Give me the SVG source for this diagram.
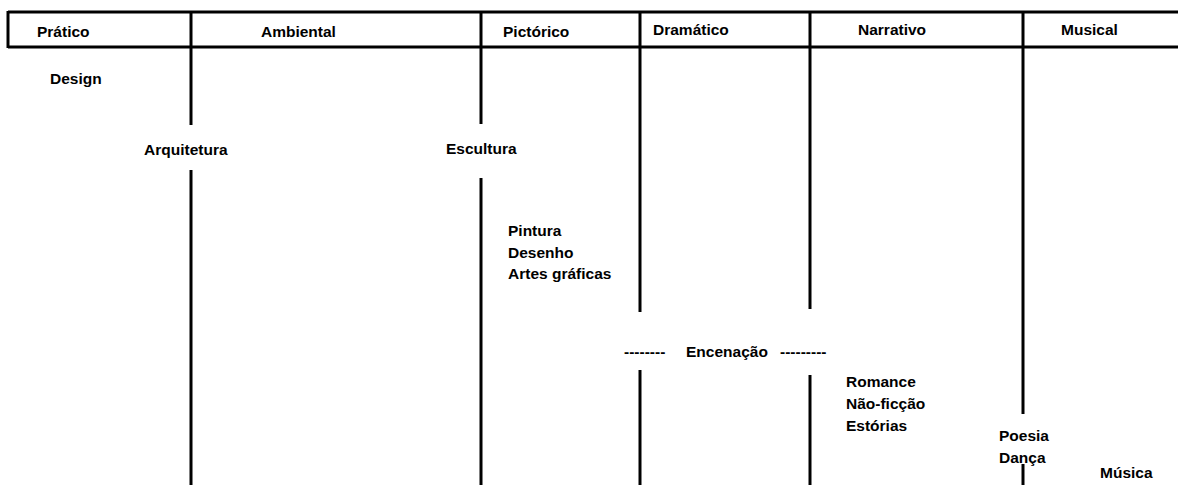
<svg xmlns="http://www.w3.org/2000/svg" width="1178" height="485" viewBox="0 0 1178 485">
<style>
text{font-family:"Liberation Sans",Arial,sans-serif;font-weight:bold;font-size:15.5px;fill:#000}
.ln{stroke:#000;stroke-width:3;fill:none}
</style>
<rect width="1178" height="485" fill="#fff"/>
<g id="connectors">
<line class="ln" x1="8" y1="12" x2="1178" y2="12"/>
<line class="ln" x1="8" y1="47" x2="1178" y2="47"/>
<line class="ln" x1="8" y1="11" x2="8" y2="48"/>
<line class="ln" x1="191" y1="11" x2="191" y2="125"/>
<line class="ln" x1="191" y1="170" x2="191" y2="485"/>
<line class="ln" x1="481" y1="11" x2="481" y2="124"/>
<line class="ln" x1="481" y1="178" x2="481" y2="485"/>
<line class="ln" x1="640" y1="11" x2="640" y2="312"/>
<line class="ln" x1="640" y1="370" x2="640" y2="485"/>
<line class="ln" x1="810" y1="11" x2="810" y2="309"/>
<line class="ln" x1="810" y1="375" x2="810" y2="485"/>
<line class="ln" x1="1023" y1="11" x2="1023" y2="414"/>
<line class="ln" x1="1023" y1="464" x2="1023" y2="485"/>
</g>
<g id="headers">
<text x="37" y="37">Prático</text>
<text x="261" y="37">Ambiental</text>
<text x="503" y="37">Pictórico</text>
<text x="653" y="35">Dramático</text>
<text x="858" y="35">Narrativo</text>
<text x="1061" y="35">Musical</text>
</g>
<g id="design"><text x="50" y="84">Design</text></g>
<g id="arquitetura"><text x="144" y="155">Arquitetura</text></g>
<g id="escultura"><text x="446" y="154">Escultura</text></g>
<g id="pictorico-items">
<text x="508" y="236">Pintura</text>
<text x="508" y="258">Desenho</text>
<text x="508" y="279">Artes gráficas</text>
</g>
<g id="encenacao">
<text x="624" y="357">--------</text>
<text x="686" y="357">Encenação</text>
<text x="780" y="357">---------</text>
</g>
<g id="narrativo-items">
<text x="846" y="387">Romance</text>
<text x="846" y="409">Não-ficção</text>
<text x="846" y="431">Estórias</text>
</g>
<g id="poesia">
<text x="999" y="441">Poesia</text>
<text x="999" y="463">Dança</text>
</g>
<g id="musica"><text x="1100" y="478">Música</text></g>
</svg>
